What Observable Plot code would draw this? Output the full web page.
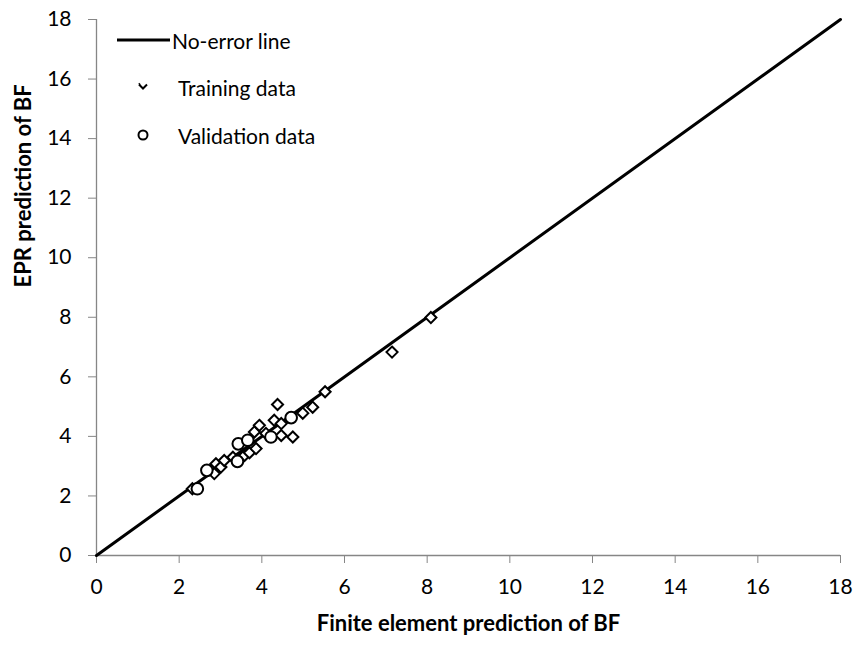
<!DOCTYPE html>
<html><head><meta charset="utf-8">
<script src="https://cdn.jsdelivr.net/npm/d3@7"></script>
<script src="https://cdn.jsdelivr.net/npm/@observablehq/plot@0.6"></script>
<style>
body{margin:0;background:#fff;}
#wrap{position:relative;width:857px;height:646px;font-family:Lato,sans-serif;}
#legend{position:absolute;left:0;top:0;width:857px;height:646px;pointer-events:none;}
</style>
</head><body><div id="wrap"></div>
<script>
// Data
const trainX = [2.32, 2.85, 2.89, 3.01, 3.09, 3.30, 3.58, 3.70, 3.86, 3.82, 3.94, 4.10, 4.30, 4.38, 4.47, 4.47, 4.75, 4.99, 5.23, 5.53, 7.15, 8.09];
const trainY = [2.24, 2.75, 3.08, 2.97, 3.19, 3.30, 3.36, 3.45, 3.59, 4.15, 4.37, 4.10, 4.54, 5.07, 4.43, 4.03, 3.98, 4.78, 4.98, 5.50, 6.83, 7.99];
const validX = [2.44, 2.67, 3.41, 3.43, 3.66, 4.22, 4.71];
const validY = [2.24, 2.86, 3.16, 3.75, 3.87, 3.98, 4.63];
const lineX = [0, 18];
const lineY = [0, 18];
const xTicks = [0, 2, 4, 6, 8, 10, 12, 14, 16, 18];
const yTicks = [0, 2, 4, 6, 8, 10, 12, 14, 16, 18];
const xLabel = "Finite element prediction of BF";
const yLabel = "EPR prediction of BF";
const legendLabels = ["No-error line", "Training data", "Validation data"];

const train = trainX.map((x, i) => ({x, y: trainY[i]}));
const valid = validX.map((x, i) => ({x, y: validY[i]}));
const lineData = lineX.map((x, i) => ({x, y: lineY[i]}));

const axisGray = "#868686";
const chart = Plot.plot({
  width: 857, height: 646,
  marginLeft: 96, marginRight: 17, marginTop: 19, marginBottom: 91,
  style: {fontFamily: "Lato, sans-serif", fontSize: "21px", color: "black", background: "white"},
  x: {domain: [0, 18]},
  y: {domain: [0, 18]},
  marks: [
    Plot.ruleY([0], {stroke: axisGray, strokeWidth: 1.3}),
    Plot.ruleX([0], {stroke: axisGray, strokeWidth: 1.3}),
    Plot.axisX({ticks: xTicks, tickSize: 8, tickPadding: 16, stroke: axisGray, fill: "black", label: null}),
    Plot.axisY({ticks: yTicks, tickSize: 8, tickPadding: 17, stroke: axisGray, fill: "black", label: null}),
    Plot.line(lineData, {x: "x", y: "y", stroke: "black", strokeWidth: 3}),
    Plot.dot(train, {x: "x", y: "y", symbol: "diamond2", r: 5, stroke: "black", strokeWidth: 2, fill: "white"}),
    Plot.dot(valid, {x: "x", y: "y", symbol: "circle", r: 5.8, stroke: "black", strokeWidth: 2, fill: "white"}),
    Plot.text([xLabel], {text: d => d, frameAnchor: "bottom", dy: 75, fontWeight: "bold", fontSize: 22, fill: "black"}),
    Plot.text([yLabel], {text: d => d, frameAnchor: "left", dx: -73, rotate: -90, fontWeight: "bold", fontSize: 22, fill: "black"})
  ]
});
const wrap = document.getElementById("wrap");
wrap.appendChild(chart);

// Legend overlay (inside plot, top-left)
const ns = "http://www.w3.org/2000/svg";
const lg = document.createElementNS(ns, "svg");
lg.setAttribute("id", "legend");
lg.setAttribute("width", 857);
lg.setAttribute("height", 646);
lg.innerHTML = `
  <line x1="117" y1="40" x2="170" y2="40" stroke="black" stroke-width="3"/>
  <text x="172" y="40" dominant-baseline="central" font-family="Lato, sans-serif" font-size="21">${legendLabels[0]}</text>
  <path d="M139 84.5 L143 88.5 L147 84.5" fill="none" stroke="black" stroke-width="2"/>
  <path d="M139 84.5 L140 83.5" fill="none" stroke="black" stroke-width="2"/>
  <text x="178" y="87" dominant-baseline="central" font-family="Lato, sans-serif" font-size="21">${legendLabels[1]}</text>
  <circle cx="143" cy="135" r="4.5" fill="white" stroke="black" stroke-width="2"/>
  <text x="178" y="135" dominant-baseline="central" font-family="Lato, sans-serif" font-size="21">${legendLabels[2]}</text>
`;
wrap.appendChild(lg);
</script>
</body></html>
